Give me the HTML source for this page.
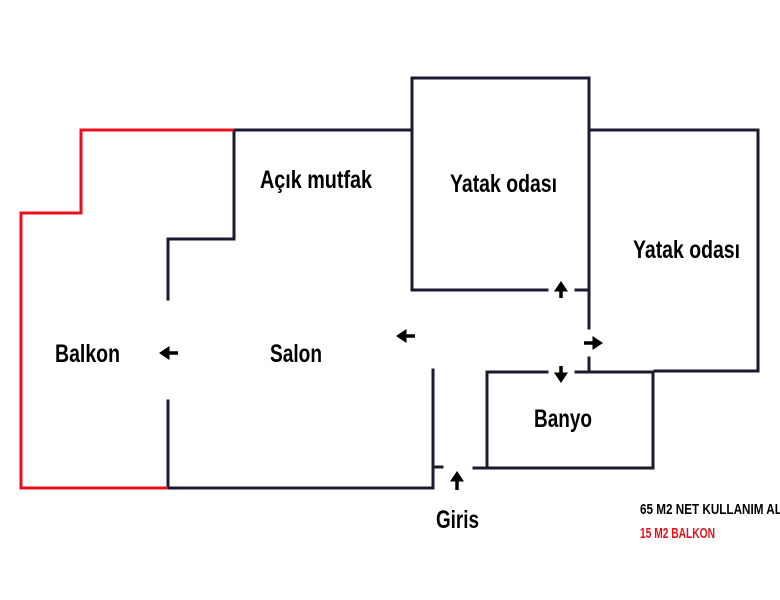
<!DOCTYPE html>
<html><head><meta charset="utf-8"><style>html,body{margin:0;padding:0;background:#fff}svg{display:block}</style></head>
<body>
<svg width="780" height="600" viewBox="0 0 780 600" xmlns="http://www.w3.org/2000/svg">
<defs>
<marker id="ah" markerWidth="4" markerHeight="4" refX="1" refY="2" orient="auto" markerUnits="strokeWidth"><path d="M0,0 L3,2 L0,4 Z" fill="#000"/></marker>
</defs>
<g fill="none" stroke="#1b1b2f" stroke-width="3" stroke-linecap="square">
<polyline points="234,130 412,130"/>
<polyline points="412,290 412,78 589,78 589,328"/>
<polyline points="412,290 547,290"/>
<polyline points="576,290 589,290"/>
<polyline points="589,130 758,130 758,371 655,371"/>
<polyline points="589,358 589,371"/>
<polyline points="487,468 487,372 547,372"/>
<polyline points="576,372 653,372 653,468 474,468"/>
<polyline points="433,370 433,488 168,488"/>
<polyline points="433,467 442,467"/>
<polyline points="234,130 234,239 168,239 168,299"/>
<polyline points="168,401 168,488"/>
</g>
<polyline points="234,130 81,130 81,213 21,213 21,488 168,488" fill="none" stroke="#e8101a" stroke-width="3"/>
<g stroke="#000" stroke-width="3.5" marker-end="url(#ah)">
<line x1="178" y1="353" x2="166" y2="353"/>
<line x1="415" y1="336" x2="403" y2="336"/>
<line x1="561" y1="298" x2="561" y2="288"/>
<line x1="584" y1="343" x2="596" y2="343"/>
<line x1="561" y1="366" x2="561" y2="376"/>
<line x1="457" y1="490" x2="457" y2="478"/>
</g>
<g font-family="'Liberation Sans Narrow','Liberation Sans',sans-serif" font-weight="bold" font-size="25" fill="#000">
<text x="260" y="188" textLength="112" lengthAdjust="spacingAndGlyphs">Açık mutfak</text>
<text x="450" y="192" textLength="107" lengthAdjust="spacingAndGlyphs">Yatak odası</text>
<text x="633" y="258" textLength="107" lengthAdjust="spacingAndGlyphs">Yatak odası</text>
<text x="55" y="362" textLength="65" lengthAdjust="spacingAndGlyphs">Balkon</text>
<text x="270" y="362" textLength="52" lengthAdjust="spacingAndGlyphs">Salon</text>
<text x="534" y="427" textLength="58" lengthAdjust="spacingAndGlyphs">Banyo</text>
<text x="436" y="528" textLength="43" lengthAdjust="spacingAndGlyphs">Giris</text>
</g>
<g font-family="'Liberation Sans Narrow','Liberation Sans',sans-serif" font-weight="bold" font-size="15">
<text x="640" y="514" fill="#000" textLength="162" lengthAdjust="spacingAndGlyphs">65 M2 NET KULLANIM ALANI</text>
<text x="640" y="538" fill="#e8101a" textLength="75" lengthAdjust="spacingAndGlyphs">15 M2 BALKON</text>
</g>
</svg>
</body></html>
